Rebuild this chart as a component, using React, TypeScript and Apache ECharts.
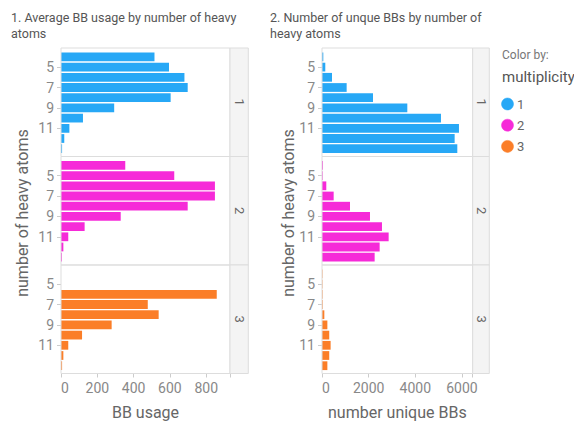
import React, { useEffect, useRef } from "react";
import * as echarts from "echarts";

const heavyAtoms = ["4", "5", "6", "7", "8", "9", "10", "11", "12", "13"];
const multiplicities = ["1", "2", "3"];
const usageM1 = [515, 595, 680, 698, 604, 293, 121, 46, 18, 6];
const usageM2 = [354, 624, 848, 848, 698, 329, 130, 40, 13, 5];
const usageM3 = [0, 0, 858, 478, 538, 279, 116, 40, 13, 6];
const uniqueM1 = [56, 141, 429, 1057, 2186, 3657, 5100, 5871, 5686, 5800];
const uniqueM2 = [40, 30, 184, 500, 1200, 2057, 2571, 2857, 2471, 2257];
const uniqueM3 = [20, 20, 25, 30, 100, 230, 310, 370, 310, 230];
const colors = ["#27a8f6", "#f62ad8", "#fb7e28"];

const FONT = "Roboto, 'Noto Sans', sans-serif";

export default function App() {
  const ref = useRef<HTMLDivElement>(null);
  useEffect(() => {
    if (!ref.current) return;
    const chart = echarts.init(ref.current, null, { renderer: "svg" });
    const frameTop = [48, 156.5, 265];
    const frameH = 108.5;
    const panels = [
      { left: 61, width: 169, max: 931, interval: 200, data: [usageM1, usageM2, usageM3], strip: 18.3 },
      { left: 322, width: 150.7, max: 6460, interval: 2000, data: [uniqueM1, uniqueM2, uniqueM3], strip: 16.6 },
    ];
    const grid: any[] = [];
    const xAxis: any[] = [];
    const yAxis: any[] = [];
    const series: any[] = [];
    const graphic: any[] = [];
    const showIdx = (i: number) => i === 1 || i === 3 || i === 5 || i === 7;
    panels.forEach((p, c) => {
      multiplicities.forEach((m, r) => {
        const gi = c * 3 + r;
        grid.push({ left: p.left, width: p.width, top: frameTop[r] + 3.8, height: 102 });
        xAxis.push({
          type: "value",
          gridIndex: gi,
          min: 0,
          max: p.max,
          interval: p.interval,
          offset: r === 2 ? 2.7 : 0,
          show: r === 2,
          axisLine: { show: false },
          axisTick: { show: true, length: 4, lineStyle: { color: "#ccc" } },
          splitLine: { show: false },
          axisLabel: {
            color: "#888",
            fontSize: 14,
            fontFamily: FONT,
            margin: 7,
            alignMinLabel: "left",
            formatter: (v: number) => (v % p.interval === 0 ? String(v) : ""),
          },
        });
        yAxis.push({
          type: "category",
          gridIndex: gi,
          inverse: true,
          data: heavyAtoms,
          axisLine: { show: false },
          axisTick: {
            show: true,
            length: 4,
            alignWithLabel: true,
            interval: (i: number) => showIdx(i),
            lineStyle: { color: "#ccc" },
          },
          axisLabel: {
            color: "#888",
            fontSize: 14,
            fontFamily: FONT,
            margin: 7,
            interval: (i: number) => showIdx(i),
          },
        });
        series.push({
          type: "bar",
          xAxisIndex: gi,
          yAxisIndex: gi,
          data: p.data[r],
          barCategoryGap: "14%",
          itemStyle: { color: colors[r] },
          silent: true,
        });
        // frame
        graphic.push({
          type: "rect",
          z: 10,
          shape: { x: p.left, y: frameTop[r], width: p.width, height: frameH },
          style: { fill: "none", stroke: "#ddd", lineWidth: 1 },
          silent: true,
        });
        // strip
        graphic.push({
          type: "rect",
          z: 10,
          shape: { x: p.left + p.width, y: frameTop[r], width: p.strip, height: frameH },
          style: { fill: "#f4f4f4", stroke: "#ddd", lineWidth: 1 },
          silent: true,
        });
        graphic.push({
          type: "text",
          z: 11,
          x: p.left + p.width + p.strip / 2,
          y: frameTop[r] + frameH / 2,
          rotation: -Math.PI / 2,
          style: {
            text: m,
            fill: "#666",
            fontSize: 13,
            fontFamily: FONT,
            align: "center",
            verticalAlign: "middle",
          },
          silent: true,
        });
      });
      // y title
      graphic.push({
        type: "text",
        x: c === 0 ? 22 : 288,
        y: 213,
        rotation: Math.PI / 2,
        style: {
          text: "number of heavy atoms",
          fill: "#666",
          fontSize: 16,
          fontFamily: FONT,
          align: "center",
          verticalAlign: "middle",
        },
      });
      // x title
      graphic.push({
        type: "text",
        x: p.left + p.width / 2,
        y: 412,
        style: {
          text: c === 0 ? "BB usage" : "number unique BBs",
          fill: "#666",
          fontSize: 16,
          fontFamily: FONT,
          align: "center",
          verticalAlign: "middle",
        },
      });
    });
    // titles
    const titles = [
      { x: 11, lines: ["1. Average BB usage by number of heavy", "atoms"] },
      { x: 270, lines: ["2. Number of unque BBs by number of", "heavy atoms"] },
    ];
    titles.forEach((t) => {
      t.lines.forEach((line, i) => {
        graphic.push({
          type: "text",
          x: t.x,
          y: 17 + i * 16.5,
          style: {
            text: line,
            fill: "#555",
            fontSize: 12.5,
            fontFamily: FONT,
            align: "left",
            verticalAlign: "middle",
          },
        });
      });
    });
    // legend
    graphic.push({
      type: "text",
      x: 502,
      y: 55,
      style: { text: "Color by:", fill: "#777", fontSize: 12, fontFamily: FONT, verticalAlign: "middle" },
    });
    graphic.push({
      type: "text",
      x: 502,
      y: 77,
      style: { text: "multiplicity", fill: "#555", fontSize: 15, fontFamily: FONT, verticalAlign: "middle" },
    });
    multiplicities.forEach((m, i) => {
      const cy = 104 + i * 21.2;
      graphic.push({
        type: "circle",
        shape: { cx: 507.5, cy, r: 6 },
        style: { fill: colors[i], stroke: colors[i], lineWidth: 0.5 },
      });
      graphic.push({
        type: "text",
        x: 517,
        y: cy,
        style: { text: m, fill: "#666", fontSize: 13, fontFamily: FONT, verticalAlign: "middle" },
      });
    });

    chart.setOption({
      animation: false,
      grid,
      xAxis,
      yAxis,
      series,
      graphic,
    });
    return () => chart.dispose();
  }, []);
  return (
    <div
      ref={ref}
      style={{ position: "absolute", left: 0, top: 0, width: 574, height: 421, background: "#fff" }}
    />
  );
}
